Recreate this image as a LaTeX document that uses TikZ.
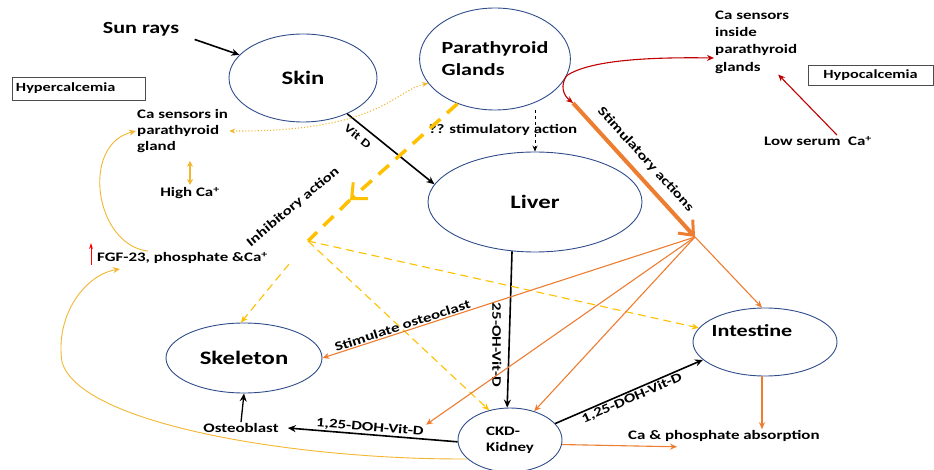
\documentclass[tikz,border=0pt]{standalone}
\usepackage{fontspec}
\setmainfont{Carlito}[FakeStretch=1.3]
\usetikzlibrary{arrows.meta,shapes.geometric,positioning}
\definecolor{VDNavy}{HTML}{2F4C8A}
\definecolor{VDOrange}{HTML}{ED7D31}
\definecolor{VDGold}{HTML}{FFC000}
\definecolor{VDCurve}{HTML}{F2B630}
\definecolor{VDRed}{HTML}{C00000}
\definecolor{VDBright}{HTML}{FF0000}

\begin{document}
\begin{tikzpicture}[x=1pt,y=-1pt,font=\bfseries\fontsize{13pt}{16pt}\selectfont,
      org/.style={draw=VDNavy,line width=0.9pt,ellipse,inner sep=0pt,align=left},
      big/.style={font=\bfseries\fontsize{19pt}{21pt}\selectfont},
      mid/.style={font=\bfseries\fontsize{17pt}{22pt}\selectfont},
      lbl/.style={font=\bfseries\fontsize{13pt}{16pt}\selectfont,align=left,inner sep=1pt,text=black},
      sml/.style={font=\bfseries\fontsize{11.5pt}{14pt}\selectfont,inner sep=2pt,text=black},
      box/.style={draw=black!70,line width=0.9pt,inner sep=0pt,font=\bfseries\fontsize{12.5pt}{14pt}\selectfont},
      blk/.style={-{Stealth[length=8pt,width=7pt]},line width=1.6pt},
      oa/.style={-{Stealth[length=7pt,width=6pt]},line width=1.1pt,color=VDOrange},
      gd/.style={-{Stealth[length=7pt,width=6pt]},line width=1.1pt,color=VDGold,dash pattern=on 8pt off 5pt},
      gc/.style={-{Stealth[length=7pt,width=6pt]},line width=0.9pt,color=VDCurve},
      rd/.style={-{Stealth[length=7pt,width=6pt]},line width=1.1pt,color=VDRed}]
      \useasboundingbox (0,0) rectangle (934,470);
      % organs
      \node[org,big,minimum width=148pt,minimum height=88pt] (skin) at (303,78) {Skin};
      \node[org,mid,minimum width=150pt,minimum height=102pt] (ptg) at (495,59) {Parathyroid\\Glands};
      \node[org,big,minimum width=214pt,minimum height=100pt] (liver) at (535,202) {Liver};
      \node[org,big,minimum width=156pt,minimum height=70pt] (skel) at (244,358) {Skeleton};
      \node[org,minimum width=144pt,minimum height=68pt] (intest) at (765,342) {};
      \node[mid] (intesttxt) at (752,331) {Intestine};
      \node[org,lbl,minimum width=104pt,minimum height=64pt] (kidney) at (510,440) {CKD-\\Kidney};
      % texts
      \node[font=\bfseries\fontsize{17pt}{19pt}\selectfont] (sun) at (141,29) {Sun rays};
      \node[box,minimum width=133pt,minimum height=23pt,text width=125pt,align=left] (hyper) at (78.5,88.5) {Hypercalcemia};
      \node[box,minimum width=125pt,minimum height=20pt] (hypo) at (870.5,75.5) {Hypocalcemia};
      \node[lbl,anchor=west] (casens) at (136,131) {Ca sensors in\\parathyroid\\gland};
      \node[lbl] (highca) at (190,193) {High Ca\textsuperscript{+}};
      \node[lbl,anchor=west] (fgf) at (96,258) {FGF-23, phosphate \&Ca\textsuperscript{+}};
      \node[lbl,anchor=west,font=\bfseries\fontsize{13pt}{17.3pt}\selectfont] (casin) at (714,42) {Ca sensors\\inside\\parathyroid\\glands};
      \node[lbl] (lowca) at (818,141) {Low serum\ \ Ca\textsuperscript{+}};
      \node[lbl] (osteo) at (241,428) {Osteoblast};
      \node[lbl,anchor=west] (absorb) at (627,436) {Ca \& phosphate absorption};
      \node[lbl] (stim) at (503,130) {?? stimulatory action};
      \node[lbl,rotate=40] (inhib) at (293,207) {Inhibitory action};
      \node[lbl,rotate=-90] (ohvd) at (497,345) {25-OH-Vit-D};
      % hubs
      \coordinate (inmid) at (350,200);
      \coordinate (inhub) at (308,241);
      \coordinate (ststart) at (573,103);
      \coordinate (sthub) at (695,237);
      % vitamin D path
      \draw[blk] ([xshift=12pt]sun.south east) -- (skin.160);
      \draw[blk] (skin.-39) -- node[sml,pos=0.2,sloped,below=4pt] {Vit D} (liver.170);
      \draw[blk] (liver.245) -- (kidney.95);
      \draw[blk] (kidney.20) -- node[lbl,pos=0.5,sloped,below] {1,25-DOH-Vit-D} (intest.196);
      \draw[blk] (kidney.182) -- node[lbl,pos=0.52,sloped,above] (dohl) {1,25-DOH-Vit-D} ([xshift=8pt]osteo.east);
      \draw[blk,line width=1.3pt] (osteo.north) -- (skel.south);
      \draw[dashed,-{Stealth[length=6pt,width=5pt]},line width=0.8pt] (ptg.south -| liver.north) -- (liver.north);
      % inhibitory action
      \draw[VDGold,line width=3.5pt,dash pattern=on 14pt off 9pt,-{Straight Barb[length=12pt,width=22pt,line width=3pt]}] (ptg.-130) -- (inmid);
      \draw[VDGold,line width=3.5pt,dash pattern=on 14pt off 9pt] (inmid) -- (inhub);
      \draw[gd,shorten <=30pt] (inhub) -- (skel.95);
      \draw[gd] (inhub) -- (intest.168);
      \draw[gd] (inhub) -- (kidney.125);
      % stimulatory actions
      \draw[rd] (ptg.-13) .. controls (590,60) and (650,57) .. ([yshift=-16pt]casin.west);
      \draw[rd] (ptg.-13) .. controls (560,85) and (563,95) .. (ststart);
      \draw[rd] ([xshift=19pt]lowca.north) -- ([xshift=22pt]casin.south);
      \draw[VDOrange,line width=4pt,-{Straight Barb[length=12pt,width=20pt,line width=3pt]}] (ststart) -- node[lbl,sloped,above=7pt,pos=0.5] {Stimulatory actions} (sthub);
      \draw[oa] (sthub) -- (intest.95);
      \draw[oa] (sthub) -- node[lbl,pos=0.78,sloped,above] {Stimulate osteoclast} (skel.east);
      \draw[oa] (sthub) -- (dohl.north east);
      \draw[oa] (sthub) -- (kidney.50);
      \draw[oa] (intest.265) -- (intest.265 |- absorb.north);
      \draw[oa] (kidney.-5) -- ([xshift=50pt,yshift=-4pt]absorb.south west);
      % hypercalcemia feedback
      \draw[gc] ([xshift=52pt]fgf.north west) .. controls (95,245) and (80,145) .. (casens.west);
      \draw[gc] (kidney.204) .. controls (300,460) and (80,425) .. (62,362) .. controls (55,315) and (85,275) .. ([xshift=24pt,yshift=-4pt]fgf.south west);
      \draw[VDCurve,line width=1.1pt,dotted,{Stealth[length=6pt,width=5pt]}-{Stealth[length=6pt,width=5pt]}] (casens.east) .. controls (380,132) and (395,90) .. (ptg.200);
      \draw[VDCurve,line width=1.4pt,{Stealth[length=6pt,width=6pt]}-{Stealth[length=6pt,width=6pt]},shorten <=7pt,shorten >=1pt] (highca.north |- casens.south) -- (highca.north);
      \draw[-{Stealth[length=6pt,width=4pt]},VDBright,line width=1pt] ([xshift=-5pt]fgf.south west) -- ([xshift=-5pt,yshift=8pt]fgf.north west);
    \end{tikzpicture}
\end{document}
